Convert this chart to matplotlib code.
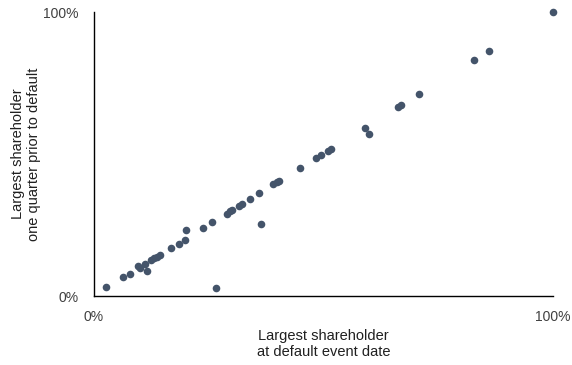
import numpy as np
import matplotlib.pyplot as plt

plt.rcParams['font.family'] = ['Liberation Sans', 'DejaVu Sans']

# largest shareholder stake (%), at default date vs one quarter prior
at_default = [2.7, 6.4, 7.9, 9.7, 10.1, 11.2, 11.6, 12.5, 13.2, 13.8, 14.5,
              16.8, 18.5, 19.8, 20.1, 23.9, 25.8, 26.7, 29.1, 29.7, 30.1,
              31.7, 32.3, 34.1, 36.0, 36.5, 39.1, 39.9, 40.4, 45.0, 48.4,
              49.4, 51.1, 51.7, 59.1, 60.0, 66.3, 66.9, 70.9, 82.9, 86.0, 100.0]
prior_quarter = [3.2, 6.7, 7.7, 10.6, 9.9, 11.3, 8.8, 12.7, 13.4, 13.8, 14.5,
                 16.8, 18.3, 19.7, 23.2, 23.9, 26.0, 2.9, 28.8, 29.8, 30.3,
                 31.6, 32.3, 34.0, 36.2, 25.2, 39.3, 40.0, 40.6, 45.1, 48.5,
                 49.8, 51.1, 51.9, 59.2, 56.9, 66.7, 67.1, 71.0, 83.2, 86.3, 100.0]

fig = plt.figure(figsize=(5.72, 3.65), dpi=100)
ax = fig.add_axes([0.1635, 0.189, 0.8033, 0.778])

ax.scatter(at_default, prior_quarter, s=30, color='#44546A', linewidths=0,
           clip_on=False, zorder=3)

ax.set_xlim(0, 100)
ax.set_ylim(0, 100)
ax.set_xticks([0, 100])
ax.set_yticks([0, 100])
ax.set_xticklabels(['0%', '100%'])
ax.set_yticklabels(['0%', '100%'])
ax.tick_params(length=0, labelsize=10, colors='#404040', pad=10)
ax.tick_params(axis='y', pad=11)

for side in ['top', 'right']:
    ax.spines[side].set_visible(False)
for side in ['left', 'bottom']:
    ax.spines[side].set_color('black')
    ax.spines[side].set_linewidth(1.0)

ax.set_xlabel('Largest shareholder\nat default event date', fontsize=10.5,
              color='#202020', va='center')
ax.xaxis.set_label_coords(0.5, -0.17)
ax.set_ylabel('Largest shareholder\none quarter prior to default', fontsize=10.5,
              color='#202020', va='center')
ax.yaxis.set_label_coords(-0.147, 0.5)

fig.savefig('out.png', dpi=100)
